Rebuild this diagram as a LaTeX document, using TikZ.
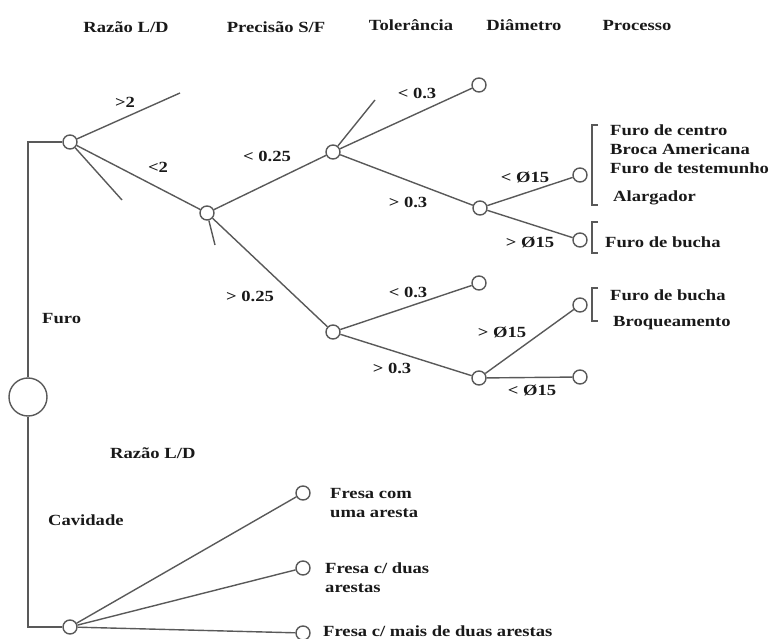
\documentclass[tikz,border=0pt]{standalone}
\usepackage{fontspec}
\setmainfont{Liberation Serif}[FakeStretch=1.2]
\begin{document}
\begin{tikzpicture}[x=1pt,y=-1pt,
  every node/.style={font=\fontsize{15.5}{19}\selectfont\bfseries, text=black!90},
  dot/.style={circle,draw=black!65,line width=1.4pt,minimum size=14pt,inner sep=0pt},
  bigdot/.style={circle,draw=black!65,line width=1.4pt,minimum size=38pt,inner sep=0pt},
  edge/.style={draw=black!65,line width=1.4pt},
  lbl/.style={inner sep=0pt},
  txt/.style={anchor=west,inner sep=0pt,align=left}]
\useasboundingbox (0,0) rectangle (774,639);
% headers
\node[lbl] (h1) at (126,27) {Razão L/D};
\node[lbl] (h2) at (276,27) {Precisão S/F};
\node[lbl] (h3) at (411,25) {Tolerância};
\node[lbl] (h4) at (524,25) {Diâmetro};
\node[lbl] (h5) at (637,26) {Processo};
% nodes
\node[bigdot] (root) at (28,397) {};
\node[dot] (n1) at (70,142) {};
\node[dot] (n2) at (207,213) {};
\node[dot] (n3) at (333,152) {};
\node[dot] (n4) at (479,85) {};
\node[dot] (n5) at (480,208) {};
\node[dot] (n6) at (580,175) {};
\node[dot] (n7) at (580,240) {};
\node[dot] (n8) at (333,332) {};
\node[dot] (n9) at (479,283) {};
\node[dot] (n10) at (479,378) {};
\node[dot] (n11) at (580,305) {};
\node[dot] (n12) at (580,377) {};
\node[dot] (b0) at (70,627) {};
\node[dot] (b1) at (303,493) {};
\node[dot] (b2) at (303,568) {};
\node[dot] (b3) at (303,633) {};
% free ends
\coordinate (c1) at (28,142);
\coordinate (s1) at (180,93);
\coordinate (s2) at (122,200);
\coordinate (s3) at (215,245);
\coordinate (s4) at (375,100);
% connectors
\draw[edge] (root.north) -- (c1) -- (n1.west);
\draw[edge] (root.south) |- (b0.west);
\draw[edge] (n1) -- (s1);
\draw[edge] (n1) -- (s2);
\draw[edge] (n1) -- (n2);
\draw[edge] (n2) -- (s3);
\draw[edge] (n2) -- (n3);
\draw[edge] (n2) -- (n8);
\draw[edge] (n3) -- (s4);
\draw[edge] (n3) -- (n4);
\draw[edge] (n3) -- (n5);
\draw[edge] (n5) -- (n6);
\draw[edge] (n5) -- (n7);
\draw[edge] (n8) -- (n9);
\draw[edge] (n8) -- (n10);
\draw[edge] (n10) -- (n11);
\draw[edge] (n10) -- (n12);
\draw[edge] (b0) -- (b1);
\draw[edge] (b0) -- (b2);
\draw[edge] (b0) -- (b3);
% edge labels
\node[lbl] (l1) at (125,102) {>2};
\node[lbl] (l2) at (158,167) {<2};
\node[lbl] (l3) at (267,156) {< 0.25};
\node[lbl] (l4) at (250,296) {> 0.25};
\node[lbl] (l5) at (417,93) {< 0.3};
\node[lbl] (l6) at (408,202) {> 0.3};
\node[lbl] (l7) at (525,177) {< Ø15};
\node[lbl] (l8) at (530,242) {> Ø15};
\node[lbl] (l9) at (408,292) {< 0.3};
\node[lbl] (l10) at (392,368) {> 0.3};
\node[lbl] (l11) at (502,332) {> Ø15};
\node[lbl] (l12) at (532,390) {< Ø15};
% brackets
\draw[edge,line width=1.1pt] (598,125) -- (592,125) -- (592,205) -- (598,205);
\draw[edge,line width=1.1pt] (598,222) -- (592,222) -- (592,253) -- (598,253);
\draw[edge,line width=1.1pt] (598,288) -- (592,288) -- (592,321) -- (598,321);
% process texts
\node[txt] (p1) at (610,130) {Furo de centro};
\node[txt] (p2) at (610,149) {Broca Americana};
\node[txt] (p3) at (610,168) {Furo de testemunho};
\node[txt] (p4) at (613,198) {Alargador};
\node[txt] (p5) at (605,242) {Furo de bucha};
\node[txt] (p6) at (610,295) {Furo de bucha};
\node[txt] (p7) at (613,323) {Broqueamento};
% left texts
\node[txt] (t1) at (42,319) {Furo};
\node[txt] (t2) at (110,453) {Razão L/D};
\node[txt] (t3) at (48,520) {Cavidade};
% bottom texts
\node[txt,align=left] (f1) at (330,503) {Fresa com\\uma aresta};
\node[txt,align=left] (f2) at (325,578) {Fresa c/ duas\\arestas};
\node[txt] (f3) at (323,631) {Fresa c/ mais de duas arestas};
\end{tikzpicture}
\end{document}
